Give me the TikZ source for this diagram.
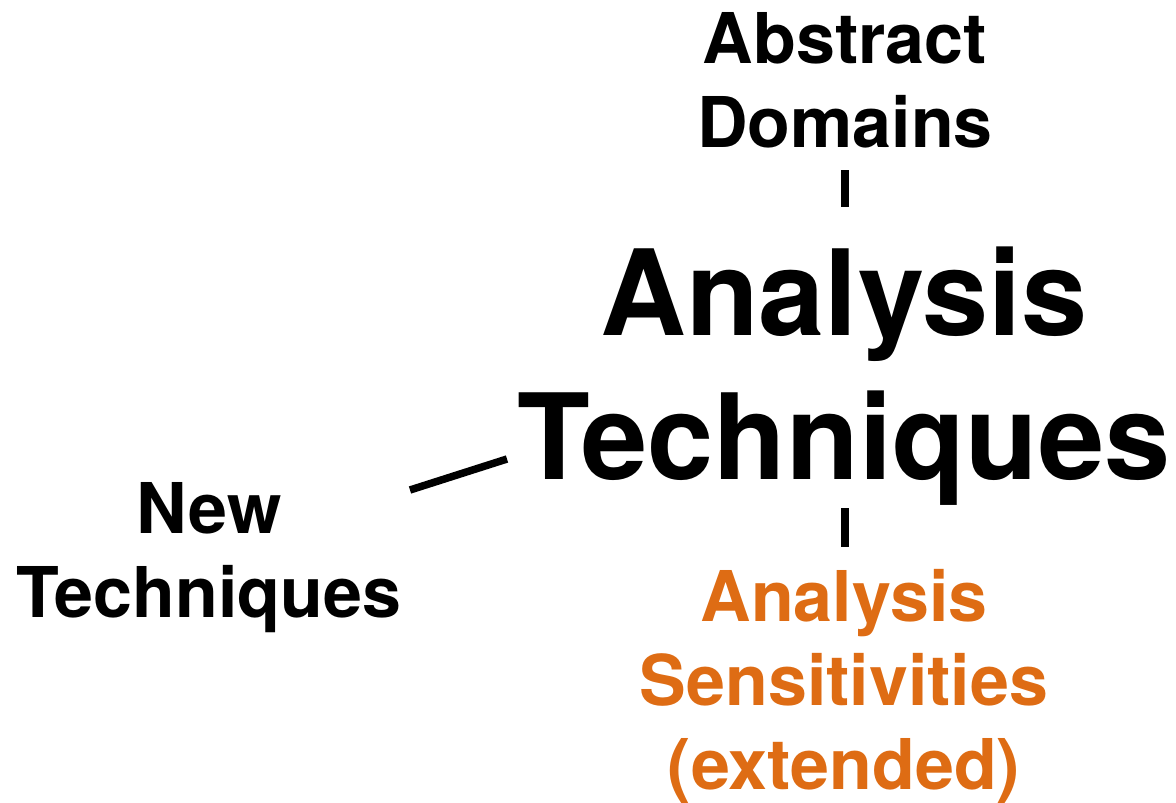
\documentclass[tikz,border=0pt]{standalone}
\usepackage{fontspec}
\setmainfont{TeX Gyre Heros}
\definecolor{sensorange}{RGB}{222,108,20}
\tikzset{
  lbl/.style={inner sep=0pt, align=center, anchor=north, font=\bfseries\fontsize{70}{84}\selectfont},
  biglbl/.style={inner sep=0pt, align=center, anchor=north, font=\bfseries\fontsize{119}{144}\selectfont},
  conn/.style={line width=7.5pt, black}
}
\begin{document}
\begin{tikzpicture}[x=1pt,y=-1pt]
\useasboundingbox (0,0) rectangle (1176,803);
\node[lbl] (ad) at (845,12.6) {Abstract\\Domains};
\node[biglbl] (at) at (844,247) {Analysis\\Techniques};
\node[lbl] (nt) at (209,482.6) {New\\Techniques};
\node[lbl, text=sensorange] (as) at (844,569.6) {Analysis\\Sensitivities\\(extended)};
\coordinate (c1) at (845,170);
\coordinate (c2) at (845,207);
\coordinate (c3) at (845,508);
\coordinate (c4) at (845,547);
\coordinate (c5) at (410,490);
\coordinate (c6) at (507,459);
\draw[conn] (c1) -- (c2);
\draw[conn] (c3) -- (c4);
\draw[conn] (c5) -- (c6);
\end{tikzpicture}
\end{document}
